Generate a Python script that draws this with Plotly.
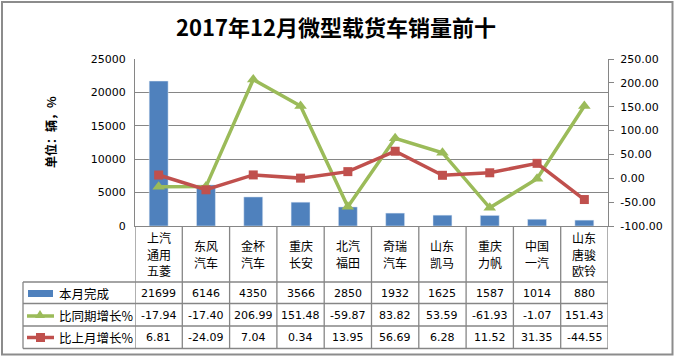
import plotly.graph_objects as go

# ---------------- data ----------------
categories = [["上汽", "通用", "五菱"], ["东风", "汽车"], ["金杯", "汽车"], ["重庆", "长安"], ["北汽", "福田"],
              ["奇瑞", "汽车"], ["山东", "凯马"], ["重庆", "力帆"], ["中国", "一汽"], ["山东", "唐骏", "欧铃"]]
sales = [21699, 6146, 4350, 3566, 2850, 1932, 1625, 1587, 1014, 880]
yoy_growth = [-17.94, -17.40, 206.99, 151.48, -59.87, 83.82, 53.59, -61.93, -1.07, 151.43]
mom_growth = [6.81, -24.09, 7.04, 0.34, 13.95, 56.69, 6.28, 11.52, 31.35, -44.55]
series_names = ["本月完成", "比同期增长%", "比上月增长%"]
left_ticks = [0, 5000, 10000, 15000, 20000, 25000]
right_ticks = [-100, -50, 0, 50, 100, 150, 200, 250]
title_text = "2017年12月微型载货车销量前十"
yaxis_title = "单位：辆，%"

# ---------------- layout geometry ----------------
W, H = 675, 357
L, R, T, B = 135, 608, 59, 226
PW, PH = R - L, B - T

def xp(px):
    return (px - L) / PW

def yp(py):
    return (B - py) / PH

BLUE, GREEN, RED = "#4F81BD", "#9BBB59", "#C0504D"
GRID = "#868686"
CJK = "Noto Sans CJK SC"
NUMF = "DejaVu Sans"

idx = list(range(len(categories)))

fig = go.Figure()
fig.add_trace(go.Bar(x=idx, y=sales, marker_color=BLUE, width=0.4,
                     name=series_names[0], yaxis="y"))
fig.add_trace(go.Scatter(x=idx, y=yoy_growth, mode="lines+markers", name=series_names[1],
                         line=dict(color=GREEN, width=3.5),
                         marker=dict(symbol="triangle-up", size=11, color=GREEN),
                         yaxis="y2"))
fig.add_trace(go.Scatter(x=idx, y=mom_growth, mode="lines+markers", name=series_names[2],
                         line=dict(color=RED, width=3.5),
                         marker=dict(symbol="square", size=9, color=RED),
                         yaxis="y2"))

shapes = []
annotations = []

# outer frame
shapes.append(dict(type="rect", xref="paper", yref="paper",
                   x0=xp(2), x1=xp(672.5), y0=yp(2), y1=yp(354.5),
                   line=dict(color="#8C8C8C", width=2), layer="below"))

# table horizontal lines
row_lines = [282, 303.5, 326, 348.5]
for py in row_lines:
    shapes.append(dict(type="line", xref="paper", yref="paper",
                       x0=xp(23), x1=xp(R), y0=yp(py), y1=yp(py),
                       line=dict(color=GRID, width=1.3)))
# legend column left line
shapes.append(dict(type="line", xref="paper", yref="paper",
                   x0=xp(23), x1=xp(23), y0=yp(282), y1=yp(348.5),
                   line=dict(color=GRID, width=1.3)))
# vertical column lines
for k in range(len(categories) + 1):
    shapes.append(dict(type="line", xref="x", yref="paper",
                       x0=k - 0.5, x1=k - 0.5, y0=yp(B), y1=yp(348.5),
                       line=dict(color=GRID, width=1.3)))

# table text
row_centers = [254, 293, 315, 337.5]
LINE_H = 16.5
fmt_rows = [
    [str(v) for v in sales],
    [f"{v:.2f}" for v in yoy_growth],
    [f"{v:.2f}" for v in mom_growth],
]
for i, lines in enumerate(categories):
    n = len(lines)
    for j, s in enumerate(lines):
        cy = row_centers[0] + (j - (n - 1) / 2) * LINE_H
        annotations.append(dict(x=i, y=yp(cy), xref="x", yref="paper",
                                text=s, showarrow=False, xanchor="center", yanchor="middle",
                                font=dict(family=CJK, size=12, color="#000000")))
    for r in range(3):
        annotations.append(dict(x=i, y=yp(row_centers[r + 1]), xref="x", yref="paper",
                                text=fmt_rows[r][i], showarrow=False,
                                xanchor="center", yanchor="middle",
                                font=dict(family=NUMF, size=11, color="#000000")))

# legend keys
for r, name in enumerate(series_names):
    cy = row_centers[r + 1]
    annotations.append(dict(x=xp(57), y=yp(cy), xref="paper", yref="paper",
                            text=name, showarrow=False, xanchor="left", yanchor="middle",
                            font=dict(family=CJK, size=12.5, color="#000000")))
# blue key
cy = row_centers[1]
shapes.append(dict(type="rect", xref="paper", yref="paper",
                   x0=xp(28), x1=xp(53), y0=yp(cy - 3), y1=yp(cy + 4),
                   fillcolor=BLUE, line=dict(width=0)))
# green key
cy = row_centers[2]
shapes.append(dict(type="line", xref="paper", yref="paper",
                   x0=xp(27), x1=xp(54), y0=yp(cy + 1), y1=yp(cy + 1),
                   line=dict(color=GREEN, width=3.5)))
shapes.append(dict(type="path", xref="paper", yref="paper",
                   path=f"M {xp(35)},{yp(cy + 3)} L {xp(45)},{yp(cy + 3)} L {xp(40)},{yp(cy - 5)} Z",
                   fillcolor=GREEN, line=dict(width=0)))
# red key
cy = row_centers[3]
shapes.append(dict(type="line", xref="paper", yref="paper",
                   x0=xp(27), x1=xp(54), y0=yp(cy), y1=yp(cy),
                   line=dict(color=RED, width=3.5)))
shapes.append(dict(type="rect", xref="paper", yref="paper",
                   x0=xp(36), x1=xp(45), y0=yp(cy - 4.5), y1=yp(cy + 4.5),
                   fillcolor=RED, line=dict(width=0)))

# title
annotations.append(dict(x=xp(336), y=yp(26), xref="paper", yref="paper",
                        text=f"<b>{title_text}</b>", showarrow=False,
                        xanchor="center", yanchor="middle",
                        font=dict(family=CJK, size=22, color="#000000")))
# y axis title
annotations.append(dict(x=xp(50), y=yp(132), xref="paper", yref="paper",
                        text=f"<b>{yaxis_title}</b>", showarrow=False, textangle=-90,
                        xanchor="center", yanchor="middle",
                        font=dict(family=CJK, size=12, color="#000000")))

fig.update_layout(
    width=W, height=H,
    margin=dict(l=L, r=W - R, t=T, b=H - B, autoexpand=False),
    paper_bgcolor="white", plot_bgcolor="white",
    showlegend=False,
    bargap=0.6,
    xaxis=dict(range=[-0.5, len(categories) - 0.5], showticklabels=False,
               showgrid=False, zeroline=False, showline=True,
               linecolor=GRID, linewidth=1.3, ticks=""),
    yaxis=dict(range=[0, 25000], tickvals=left_ticks, tickformat="d", showgrid=True,
               gridcolor=GRID, gridwidth=1.3, zeroline=False,
               showline=True, linecolor=GRID, linewidth=1.3, ticks="",
               ticklabelstandoff=6,
               tickfont=dict(family=NUMF, size=11, color="#000000")),
    yaxis2=dict(range=[-100, 250], tickvals=right_ticks,
                ticktext=[f"{v:.2f}" for v in right_ticks],
                overlaying="y", side="right", showgrid=False, zeroline=False,
                showline=True, linecolor=GRID, linewidth=1.3,
                ticks="outside", ticklen=5, tickcolor=GRID, tickwidth=1.3,
                ticklabelstandoff=4,
                tickfont=dict(family=NUMF, size=11, color="#000000")),
    shapes=shapes,
    annotations=annotations,
)

fig.write_html("out.html", config={"displayModeBar": False},
               post_script="document.body.style.margin='0px';document.body.style.overflow='hidden';")
